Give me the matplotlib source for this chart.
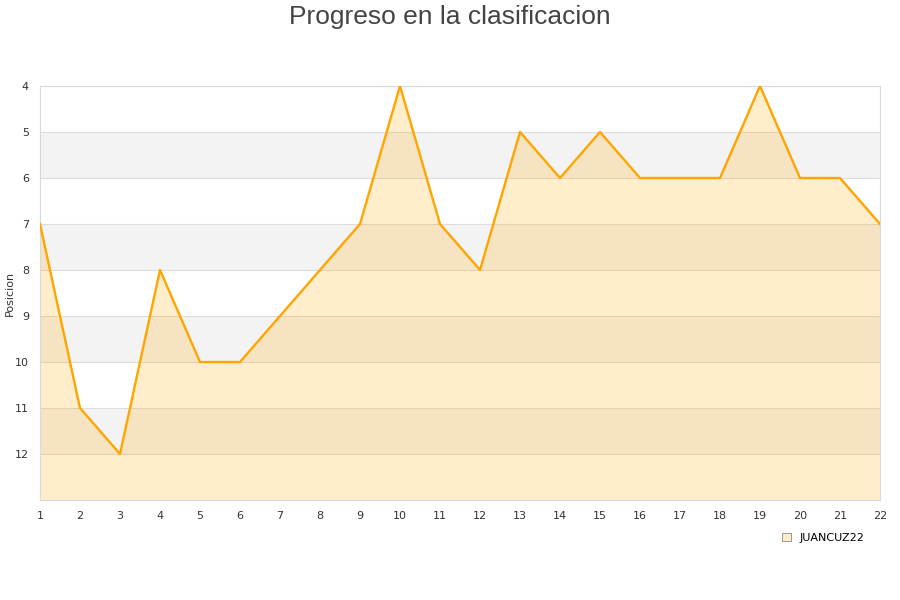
import matplotlib
matplotlib.use("Agg")
import matplotlib.pyplot as plt
from matplotlib.patches import Patch

jornadas = list(range(1, 23))
posiciones = [7, 11, 12, 8, 10, 10, 9, 8, 7, 4, 7, 8, 5, 6, 5, 6, 6, 6, 4, 6, 6, 7]
y_ticks = [4, 5, 6, 7, 8, 9, 10, 11, 12]
serie = "JUANCUZ22"

fig = plt.figure(figsize=(9, 6), dpi=100)
ax = fig.add_axes([40/900, 1-500/600, 840/900, 414/600])

ymin, ymax = 4, 13
for k in range(ymin, ymax):
    if (k - ymin) % 2 == 1:
        ax.axhspan(k, k+1, color="#f3f3f3", zorder=0, lw=0)
for k in range(ymin, ymax + 1):
    ax.axhline(k, color="#dddddd", lw=0.8, zorder=1)

ax.fill_between(jornadas, posiciones, ymax, color="#FFA500", alpha=0.2, lw=0, zorder=2)
ax.plot(jornadas, posiciones, color="#FFA500", lw=1.7, zorder=3, label=serie)

ax.set_xlim(1, 22)
ax.set_ylim(ymax, ymin)
ax.set_xticks(jornadas)
ax.set_yticks(y_ticks)
ax.tick_params(length=0, labelsize=8, colors="#333333", pad=8)
for s in ax.spines.values():
    s.set_color("#d9d9d9")
    s.set_linewidth(0.8)

fig.text(10/900, 1-293/600, "Posicion", rotation=90, ha="center", va="center", fontsize=8, color="#333333")
fig.text(0.5, 1-17/600, "Progreso en la clasificacion", ha="center", va="center", fontsize=19,
         color="#444444", family="Liberation Sans")

h = [Patch(facecolor="#FFECC8", edgecolor="#888888", lw=0.6)]
fig.legend(h, [serie], loc="center left", bbox_to_anchor=(772/900, 1-538/600), frameon=False,
           fontsize=8, handlelength=0.8, handleheight=0.8, handletextpad=0.8)

fig.savefig("out.png", dpi=100)
